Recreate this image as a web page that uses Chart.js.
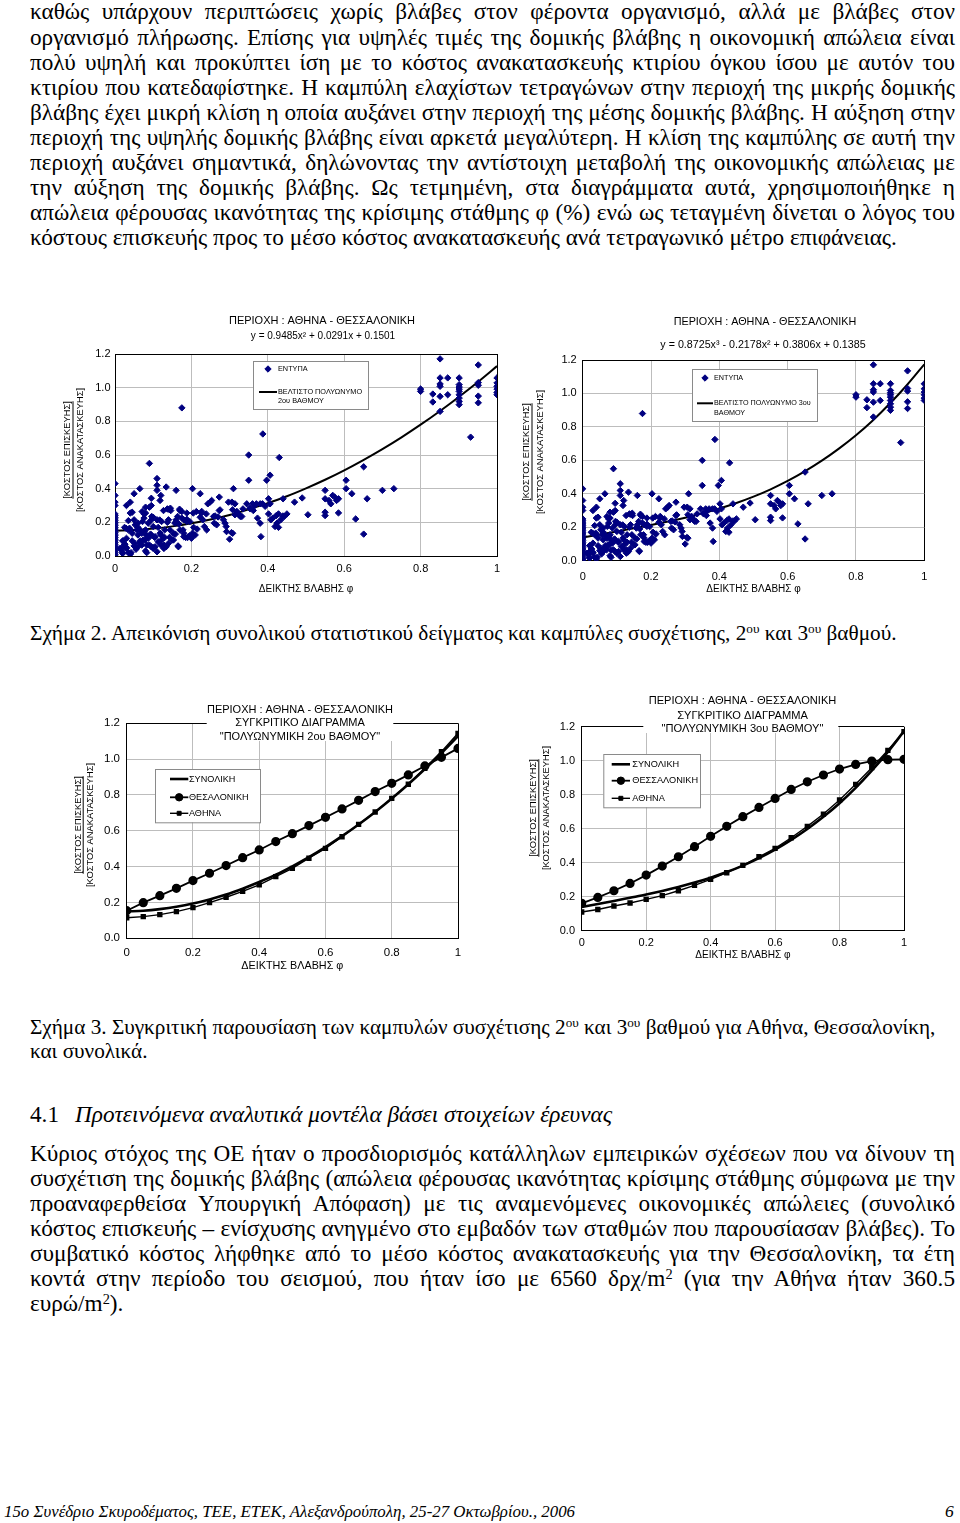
<!DOCTYPE html>
<html><head><meta charset="utf-8">
<script src="https://cdn.jsdelivr.net/npm/chart.js@4.4.1/dist/chart.umd.min.js"></script>
<style>
html,body{margin:0;padding:0;background:#fff;}
body{width:960px;height:1523px;position:relative;overflow:hidden;font-family:'Liberation Serif','Times New Roman',serif;color:#000;}
.blk{position:absolute;left:30px;width:925px;font-size:19.4px;line-height:25.1px;}
.blk > div{white-space:nowrap;}
.blk.done > div{white-space:normal;}
.j{text-align:justify;text-align-last:justify;}
sup{font-size:0.62em;line-height:0;vertical-align:0.5em;}
canvas{position:absolute;}
</style></head><body>

<div class="blk" id="p1" style="top:-0.6px">
<div class="jj"><span class="m">καθώς υπάρχουν περιπτώσεις χωρίς βλάβες στον φέροντα οργανισμό, αλλά με βλάβες στον</span></div>
<div class="jj"><span class="m">οργανισμό πλήρωσης. Επίσης για υψηλές τιμές της δομικής βλάβης η οικονομική απώλεια είναι</span></div>
<div class="jj"><span class="m">πολύ υψηλή και προκύπτει ίση με το κόστος ανακατασκευής κτιρίου όγκου ίσου με αυτόν του</span></div>
<div class="jj"><span class="m">κτιρίου που κατεδαφίστηκε. Η καμπύλη ελαχίστων τετραγώνων στην περιοχή της μικρής δομικής</span></div>
<div class="jj"><span class="m">βλάβης έχει μικρή κλίση η οποία αυξάνει στην περιοχή της μέσης δομικής βλάβης. Η αύξηση στην</span></div>
<div class="jj"><span class="m">περιοχή της υψηλής δομικής βλάβης είναι αρκετά μεγαλύτερη. Η κλίση της καμπύλης σε αυτή την</span></div>
<div class="jj"><span class="m">περιοχή αυξάνει σημαντικά, δηλώνοντας την αντίστοιχη μεταβολή της οικονομικής απώλειας με</span></div>
<div class="jj"><span class="m">την αύξηση της δομικής βλάβης. Ως τετμημένη, στα διαγράμματα αυτά, χρησιμοποιήθηκε η</span></div>
<div class="jj"><span class="m">απώλεια φέρουσας ικανότητας της κρίσιμης στάθμης φ (%) ενώ ως τεταγμένη δίνεται ο λόγος του</span></div>
<div><span class="m">κόστους επισκευής προς το μέσο κόστος ανακατασκευής ανά τετραγωνικό μέτρο επιφάνειας.</span></div>
</div>

<div class="blk" id="cap2" style="top:620.5px"><div><span class="m">Σχήμα 2. Απεικόνιση συνολικού στατιστικού δείγματος και καμπύλες συσχέτισης, 2<sup>ου</sup> και 3<sup>ου</sup> βαθμού.</span></div></div>

<div class="blk" id="cap3" style="top:1015px;line-height:24px;">
<div><span class="m">Σχήμα 3. Συγκριτική παρουσίαση των καμπυλών συσχέτισης 2<sup>ου</sup> και 3<sup>ου</sup> βαθμού για Αθήνα, Θεσσαλονίκη,</span></div>
<div><span class="m">και συνολικά.</span></div>
</div>

<div class="blk" id="head" style="top:1100px;line-height:28px;width:930px;">
<div><span class="m">4.1</span></div>
<div style="position:absolute;left:45px;top:0;font-style:italic;"><span class="m" id="headIt">Προτεινόμενα αναλυτικά μοντέλα βάσει στοιχείων έρευνας</span></div>
</div>

<div class="blk" id="p2" style="top:1140.5px;line-height:25px;">
<div class="jj"><span class="m">Κύριος στόχος της ΟΕ ήταν ο προσδιορισμός κατάλληλων εμπειρικών σχέσεων που να δίνουν τη</span></div>
<div class="jj"><span class="m">συσχέτιση της δομικής βλάβης (απώλεια φέρουσας ικανότητας κρίσιμης στάθμης σύμφωνα με την</span></div>
<div class="jj"><span class="m">προαναφερθείσα Υπουργική Απόφαση) με τις αναμενόμενες οικονομικές απώλειες (συνολικό</span></div>
<div class="jj"><span class="m">κόστος επισκευής – ενίσχυσης ανηγμένο στο εμβαδόν των σταθμών που παρουσίασαν βλάβες). Το</span></div>
<div class="jj"><span class="m">συμβατικό κόστος λήφθηκε από το μέσο κόστος ανακατασκευής για την Θεσσαλονίκη, τα έτη</span></div>
<div class="jj"><span class="m">κοντά στην περίοδο του σεισμού, που ήταν ίσο με 6560 δρχ/m<sup>2</sup> (για την Αθήνα ήταν 360.5</span></div>
<div><span class="m">ευρώ/m<sup>2</sup>).</span></div>
</div>

<div id="foot" style="position:absolute;left:4px;top:1500px;font-size:17.5px;line-height:22px;font-style:italic;transform-origin:left top;white-space:nowrap;"><span id="footSpan">15o Συνέδριο Σκυροδέματος, ΤΕΕ, ΕΤΕΚ, Αλεξανδρούπολη, 25-27 Οκτωβρίου., 2006</span></div>
<div style="position:absolute;left:945px;top:1500px;font-size:17.5px;line-height:22px;font-style:italic;">6</div>

<canvas id="c1" width="460" height="300" style="left:50px;top:300px"></canvas>
<canvas id="c2" width="450" height="300" style="left:505px;top:300px"></canvas>
<canvas id="c3" width="430" height="300" style="left:50px;top:690px"></canvas>
<canvas id="c4" width="430" height="300" style="left:505px;top:680px"></canvas>

<script>
// ---------------- DATA ----------------
const xTickLabels = ['0','0.2','0.4','0.6','0.8','1'];
const yTickLabels = ['0.0','0.2','0.4','0.6','0.8','1.0','1.2'];
const curveX = [0,0.05,0.1,0.15,0.2,0.25,0.3,0.35,0.4,0.45,0.5,0.55,0.6,0.65,0.7,0.75,0.8,0.85,0.9,0.95,1];
// overall fitted curves (ΣΥΝΟΛΙΚΗ)
const total2 = [0.150,0.154,0.163,0.176,0.194,0.217,0.244,0.277,0.314,0.355,0.402,0.453,0.509,0.570,0.635,0.705,0.780,0.860,0.945,1.034,1.128];
const total3 = [0.139,0.157,0.175,0.194,0.213,0.234,0.257,0.283,0.312,0.345,0.383,0.427,0.477,0.534,0.598,0.670,0.750,0.840,0.941,1.052,1.174];
// Thessaloniki / Athens curves
const thes2 = [0.154,0.199,0.238,0.279,0.322,0.363,0.406,0.450,0.493,0.540,0.584,0.629,0.675,0.722,0.770,0.819,0.865,0.912,0.962,1.010,1.060];
const ath2  = [0.115,0.121,0.132,0.149,0.171,0.199,0.229,0.262,0.298,0.344,0.390,0.447,0.502,0.567,0.636,0.705,0.781,0.860,0.949,1.042,1.144];
const thes3 = [0.161,0.196,0.235,0.278,0.327,0.380,0.435,0.494,0.555,0.614,0.671,0.725,0.778,0.831,0.876,0.916,0.951,0.978,0.998,1.006,1.008];
const ath3  = [0.110,0.125,0.145,0.163,0.184,0.206,0.235,0.267,0.302,0.341,0.384,0.435,0.484,0.547,0.614,0.686,0.769,0.861,0.959,1.061,1.171];
// survey records (ΕΝΤΥΠΑ): [damage index φ, repair/reconstruction cost ratio]
const surveyPoints = [
[0,0.43],[0,0.36],[0,0.32],[0,0.30],[0,0.25],[0,0.24],[0,0.23],[0,0.22],[0,0.21],[0,0.20],[0,0.19],[0,0.18],[0,0.17],[0,0.16],[0,0.15],[0,0.14],[0,0.13],[0,0.12],[0,0.11],[0,0.10],[0,0.09],[0,0.08],[0,0.07],[0,0.06],[0,0.05],[0,0.04],[0,0.03],[0,0.02],[0,0.01],[0,0.0],
[0.175,0.88],[0.09,0.55],[0.11,0.46],[0.11,0.42],[0.11,0.39],[0.065,0.40],[0.05,0.37],[0.04,0.32],[0.03,0.30],[0.045,0.26],[0.04,0.255],[0.035,0.21],[0.053,0.185],[0.057,0.155],[0.04,0.155],[0.03,0.105],[0.026,0.07],[0.042,0.02],[0.017,0.035],[0.02,0.015],[0.06,0.055],[0.074,0.095],[0.08,0.155],[0.083,0.02],[0.1,0.045],[0.105,0.055],[0.105,0.115],[0.1,0.175],[0.096,0.235],[0.09,0.29],[0.08,0.29],[0.08,0.255],[0.076,0.225],[0.087,0.195],[0.118,0.33],[0.12,0.36],[0.127,0.27],[0.134,0.41],[0.137,0.28],[0.14,0.215],[0.13,0.155],[0.122,0.095],[0.128,0.065],[0.118,0.135],[0.146,0.27],[0.144,0.155],[0.153,0.135],[0.153,0.095],[0.166,0.055],[0.16,0.215],[0.16,0.39],[0.164,0.235],[0.17,0.27],[0.175,0.225],[0.18,0.215],[0.188,0.255],[0.18,0.115],[0.18,0.135],[0.19,0.11],[0.188,0.205],[0.203,0.40],[0.205,0.255],[0.203,0.135],[0.21,0.125],[0.2,0.105],[0.223,0.37],[0.227,0.265],[0.223,0.23],[0.23,0.215],[0.234,0.175],[0.24,0.155],[0.243,0.31],[0.249,0.32],[0.253,0.33],[0.258,0.235],[0.26,0.195],[0.266,0.185],[0.273,0.35],[0.273,0.27],[0.284,0.215],[0.288,0.195],[0.297,0.32],[0.30,0.10],[0.308,0.135],[0.308,0.275],[0.31,0.40],[0.306,0.32],[0.314,0.31],[0.314,0.245],[0.319,0.265],[0.328,0.235],[0.335,0.28],[0.332,0.235],[0.35,0.60],[0.35,0.45],[0.345,0.31],[0.354,0.28],[0.36,0.31],[0.362,0.27],[0.37,0.31],[0.373,0.225],[0.38,0.195],[0.382,0.115],[0.387,0.725],[0.38,0.31],[0.393,0.295],[0.397,0.45],[0.406,0.48],[0.402,0.34],[0.406,0.31],[0.402,0.25],[0.408,0.215],[0.413,0.225],[0.419,0.175],[0.424,0.195],[0.43,0.585],[0.428,0.25],[0.434,0.215],[0.44,0.34],[0.443,0.235],[0.45,0.25],[0.47,0.32],[0.49,0.345],[0.505,0.245],
[0.013,0.045],[0.022,0.09],[0.03,0.045],[0.035,0.155],[0.045,0.135],[0.052,0.075],[0.06,0.125],[0.066,0.09],[0.07,0.135],[0.083,0.065],[0.087,0.105],[0.093,0.13],[0.11,0.025],[0.113,0.085],[0.134,0.055],[0.14,0.075],[0.157,0.195],[0.05,0.215],[0.06,0.195],[0.072,0.205],[0.11,0.215],[0.113,0.17],[0.122,0.205],[0.029,0.165],
[0.095,0.343],[0.095,0.30],[0.139,0.278],[0.145,0.284],[0.169,0.278],[0.175,0.264],[0.071,0.264],[0.076,0.25],[0.213,0.264],[0.226,0.254],[0.239,0.25],[0.117,0.214],[0.095,0.214],[0.1,0.23],[0.137,0.2],[0.16,0.204],[0.167,0.19],[0.188,0.218],[0.196,0.204],[0.17,0.155],[0.178,0.155],[0.025,0.17],[0.038,0.165],[0.06,0.17],[0.065,0.155],[0.076,0.145],[0.082,0.125],[0.078,0.095],[0.095,0.125],[0.104,0.11],[0.12,0.125],[0.13,0.11],[0.143,0.111],[0.149,0.095],[0.158,0.13],[0.185,0.11],[0.195,0.12],[0.2,0.115],[0.206,0.17],[0.215,0.16],[0.02,0.09],[0.025,0.07],[0.018,0.05],[0.03,0.05],[0.045,0.09],[0.05,0.06],[0.055,0.04],[0.065,0.08],[0.07,0.065],[0.09,0.065],[0.1,0.05],[0.095,0.055],[0.12,0.065],[0.128,0.045],[0.165,0.06],[0.02,0.02],[0.035,0.02],[0.04,0.01],[0.08,0.03],
[0.262,0.238],[0.27,0.232],[0.275,0.274],[0.291,0.175],[0.292,0.145],[0.305,0.139],[0.32,0.258],[0.325,0.243],[0.353,0.284],[0.366,0.30],[0.386,0.31],[0.422,0.24],[0.428,0.17],[0.44,0.238],
[0.55,0.39],[0.55,0.34],[0.55,0.26],[0.55,0.24],[0.56,0.33],[0.565,0.31],[0.57,0.36],[0.575,0.35],[0.58,0.33],[0.585,0.34],[0.585,0.256],[0.605,0.45],[0.605,0.40],[0.62,0.37],[0.63,0.22],[0.651,0.53],[0.651,0.13],[0.66,0.34],[0.70,0.39],[0.73,0.40],
[0.80,0.992],[0.80,0.978],[0.832,0.962],[0.832,0.915],[0.851,1.171],[0.851,1.058],[0.851,1.022],[0.851,1.008],[0.851,0.948],[0.851,0.859],[0.871,1.058],[0.871,0.958],
[0.901,1.058],[0.901,1.018],[0.901,1.004],[0.901,0.992],[0.901,0.978],[0.901,0.958],[0.901,0.938],[0.901,0.918],[0.901,0.899],[0.931,0.706],
[0.951,1.135],[0.951,1.03],[0.951,1.014],[0.951,0.95],[0.951,0.91],[1,1.058],[1,1.028],[1,1.008],[1,0.992],[1,0.972],[1,0.958]
];

// ---------------- TEXT FITTING (match reference line widths) ----------------
function spanW(s) { return s.getBoundingClientRect().width; }
function setBlockSize(blk, fs) {
  blk.style.fontSize = fs + 'px';
  blk.querySelectorAll(':scope > div').forEach(d => {
    const s = d.querySelector('span.m');
    if (s && d.classList.contains('jj')) {
      const w = spanW(s);
      if (w > 924) d.style.fontSize = (fs * 923 / w) + 'px';
    }
  });
  blk.querySelectorAll('.jj').forEach(d => d.classList.add('j'));
  blk.classList.add('done');
}
function fitBlock(id, lineIdx, target) {
  const blk = document.getElementById(id);
  const base = parseFloat(getComputedStyle(blk).fontSize);
  const s = blk.querySelectorAll('span.m')[lineIdx];
  const fs = base * target / spanW(s);
  setBlockSize(blk, fs);
  return fs;
}
const bodySize = fitBlock('p1', 9, 867);
setBlockSize(document.getElementById('p2'), bodySize);
fitBlock('cap2', 0, 867);
fitBlock('cap3', 0, 905);
(function () {
  const blk = document.getElementById('head');
  const base = parseFloat(getComputedStyle(blk).fontSize);
  const fs = base * 537 / spanW(document.getElementById('headIt'));
  blk.style.fontSize = fs + 'px';
  blk.classList.add('done');
  const f = document.getElementById('foot');
  f.style.transform = 'scaleX(' + (571 / spanW(document.getElementById('footSpan'))) + ')';
})();

// ---------------- CHART HELPERS ----------------
const SANS = "'Liberation Sans', Arial, sans-serif";
const NAVY = '#000080';
const curve = ys => curveX.map((x, i) => ({x, y: ys[i]}));
const scatterData = surveyPoints.map(p => ({x: p[0], y: p[1]}));

function makeScales(c) {
  const gridCol = (labels) => (ctx) => ctx.index === labels.length - 1 ? '#000' : '#bdbdbd';
  return {
    x: {
      type: 'linear', min: 0, max: 1,
      afterFit: s => { s.height = c.xH; },
      ticks: {stepSize: 0.2, autoSkip: false, maxRotation: 0, minRotation: 0, padding: c.xPad, color: '#000',
              font: {family: SANS, size: c.tick}, callback: (v, i) => xTickLabels[i]},
      grid: {drawTicks: false, color: gridCol(xTickLabels), lineWidth: 1},
      border: {color: '#000', width: 1},
      title: {display: true, text: 'ΔΕΙΚΤΗΣ ΒΛΑΒΗΣ φ', color: '#000', font: {family: SANS, size: c.xt}, padding: 0}
    },
    y: {
      type: 'linear', min: 0, max: 1.2,
      afterFit: s => { s.width = c.yW; },
      ticks: {stepSize: 0.2, autoSkip: false, padding: c.yPad, color: '#000',
              font: {family: SANS, size: c.tick}, callback: (v, i) => yTickLabels[i]},
      grid: {drawTicks: false, color: gridCol(yTickLabels), lineWidth: 1},
      border: {color: '#000', width: 1}
    }
  };
}

function drawMarker(ctx, style, r, x, y, color) {
  ctx.fillStyle = color; ctx.strokeStyle = color; ctx.lineWidth = 1;
  ctx.beginPath();
  if (style === 'rectRot') { ctx.moveTo(x, y - r); ctx.lineTo(x + r, y); ctx.lineTo(x, y + r); ctx.lineTo(x - r, y); ctx.closePath(); }
  else if (style === 'rect') { const h = r * Math.SQRT1_2; ctx.rect(x - h, y - h, 2 * h, 2 * h); }
  else { ctx.arc(x, y, r, 0, Math.PI * 2); }
  ctx.fill(); ctx.stroke();
}

const decor = {
  id: 'decor',
  afterDraw(chart, args, o) {
    const ctx = chart.ctx;
    ctx.save();
    if (o.mask) { ctx.fillStyle = '#fff'; ctx.fillRect(o.mask[0], o.mask[1], o.mask[2] - o.mask[0], o.mask[3] - o.mask[1]); }
    ctx.fillStyle = '#000'; ctx.textAlign = 'center'; ctx.textBaseline = 'middle';
    (o.titles || []).forEach(t => { ctx.font = t.size + 'px ' + SANS; ctx.fillText(t.text, t.x, t.y); });
    if (o.ytitle) {
      const yt = o.ytitle;
      ctx.font = yt.size + 'px ' + SANS;
      const w1 = ctx.measureText(yt.top).width;
      ctx.save(); ctx.translate(yt.x1, yt.cy); ctx.rotate(-Math.PI / 2); ctx.fillText(yt.top, 0, 0); ctx.restore();
      ctx.save(); ctx.translate(yt.x2, yt.cy); ctx.rotate(-Math.PI / 2); ctx.fillText(yt.bottom, 0, 0); ctx.restore();
      ctx.strokeStyle = '#000'; ctx.lineWidth = 1;
      ctx.beginPath(); ctx.moveTo(yt.xu + 0.5, yt.cy - w1 / 2); ctx.lineTo(yt.xu + 0.5, yt.cy + w1 / 2); ctx.stroke();
    }
    if (o.legend) {
      const L = o.legend;
      ctx.fillStyle = '#fff'; ctx.fillRect(L.box[0], L.box[1], L.box[2] - L.box[0], L.box[3] - L.box[1]);
      ctx.strokeStyle = '#8a8a8a'; ctx.lineWidth = 1;
      ctx.strokeRect(L.box[0] + 0.5, L.box[1] + 0.5, L.box[2] - L.box[0], L.box[3] - L.box[1]);
      L.items.forEach(it => {
        const ds = chart.data.datasets[it.ds];
        if (ds.showLine) {
          ctx.strokeStyle = ds.borderColor; ctx.lineWidth = ds.borderWidth;
          ctx.beginPath(); ctx.moveTo(L.sx1, it.y); ctx.lineTo(L.sx2, it.y); ctx.stroke();
        }
        if (ds.pointRadius > 0) drawMarker(ctx, ds.pointStyle, ds.pointRadius, (L.sx1 + L.sx2) / 2, it.y, ds.pointBackgroundColor || ds.backgroundColor);
        ctx.fillStyle = '#000'; ctx.textAlign = 'left'; ctx.font = L.size + 'px ' + SANS;
        it.lines.forEach((ln, k) => ctx.fillText(ln, L.tx, it.y + k * L.lh));
      });
    }
    ctx.restore();
  }
};

function scatterChart(id, fit, c, extra) {
  return new Chart(document.getElementById(id), {
    type: 'scatter',
    data: {datasets: [
      {label: 'ΕΝΤΥΠΑ', data: scatterData, pointStyle: 'rectRot', pointRadius: 3.2, pointHoverRadius: 3.2,
       backgroundColor: NAVY, borderColor: NAVY, pointBackgroundColor: NAVY, borderWidth: 1, showLine: false},
      {label: 'ΒΕΛΤΙΣΤΟ ΠΟΛΥΩΝΥΜΟ', data: curve(fit), showLine: true, pointRadius: 0, borderColor: '#000',
       borderWidth: 2, cubicInterpolationMode: 'monotone', fill: false}
    ]},
    options: {
      responsive: false, animation: false, devicePixelRatio: 1,
      layout: {padding: c.pad},
      scales: makeScales(c),
      plugins: {legend: {display: false}, tooltip: {enabled: false}, decor: extra}
    },
    plugins: [decor]
  });
}

function compareChart(id, tot, th, at, c, extra) {
  return new Chart(document.getElementById(id), {
    type: 'scatter',
    data: {datasets: [
      {label: 'ΣΥΝΟΛΙΚΗ', data: curve(tot), showLine: true, pointRadius: 0, borderColor: '#000', borderWidth: 2.6,
       cubicInterpolationMode: 'monotone'},
      {label: c.thesLabel, data: curve(th), showLine: true, pointStyle: 'circle', pointRadius: 3.7, pointHoverRadius: 3.7,
       borderColor: '#000', backgroundColor: '#000', pointBackgroundColor: '#000', borderWidth: 1.8},
      {label: 'ΑΘΗΝΑ', data: curve(at), showLine: true, pointStyle: 'rect', pointRadius: 2.8, pointHoverRadius: 2.8,
       borderColor: '#000', backgroundColor: '#000', pointBackgroundColor: '#000', borderWidth: 1.4}
    ]},
    options: {
      responsive: false, animation: false, devicePixelRatio: 1,
      layout: {padding: c.pad},
      scales: makeScales(c),
      plugins: {legend: {display: false}, tooltip: {enabled: false}, decor: extra}
    },
    plugins: [decor]
  });
}

const YT = {top: '[ΚΟΣΤΟΣ ΕΠΙΣΚΕΥΗΣ]', bottom: '[ΚΟΣΤΟΣ ΑΝΑΚΑΤΑΣΚΕΥΗΣ]', size: 9.3};
const REGION = 'ΠΕΡΙΟΧΗ : ΑΘΗΝΑ - ΘΕΣΣΑΛΟΝΙΚΗ';

scatterChart('c1', total2,
  {pad: {left: 0, top: 54, right: 13, bottom: 4.4}, xH: 39.6, yW: 65, xPad: 6.7, yPad: 4.5, tick: 11, xt: 10},
  {titles: [{text: REGION, x: 272, y: 20.7, size: 11},
            {text: 'y = 0.9485x² + 0.0291x + 0.1501', x: 273, y: 36.7, size: 10}],
   ytitle: Object.assign({x1: 17.3, xu: 22.5, x2: 30.7, cy: 150}, YT),
   legend: {box: [203, 61, 318, 109], sx1: 209, sx2: 227, tx: 228, size: 7.3, lh: 8.5,
            items: [{ds: 0, y: 69, lines: ['ΕΝΤΥΠΑ']}, {ds: 1, y: 92, lines: ['ΒΕΛΤΙΣΤΟ ΠΟΛΥΩΝΥΜΟ', '2ου ΒΑΘΜΟΥ']}]}});

scatterChart('c2', total3,
  {pad: {left: 0, top: 60, right: 30.7, bottom: 4.4}, xH: 34.9, yW: 77.7, xPad: 9.4, yPad: 6, tick: 11, xt: 10},
  {titles: [{text: REGION, x: 260, y: 21.7, size: 10.8},
            {text: 'y = 0.8725x³ - 0.2178x² + 0.3806x + 0.1385', x: 258, y: 45, size: 10.7}],
   ytitle: Object.assign({x1: 21.7, xu: 26.5, x2: 35, cy: 152}, YT),
   legend: {box: [187, 69, 312, 121], sx1: 192, sx2: 208, tx: 209, size: 7.2, lh: 9.3,
            items: [{ds: 0, y: 78, lines: ['ΕΝΤΥΠΑ']}, {ds: 1, y: 103.3, lines: ['ΒΕΛΤΙΣΤΟ ΠΟΛΥΩΝΥΜΟ 3ου', 'ΒΑΘΜΟΥ']}]}});

compareChart('c3', total2, thes2, ath2,
  {pad: {left: 0, top: 33.3, right: 22, bottom: 17}, xH: 34.7, yW: 76.7, xPad: 8.1, yPad: 6.7, tick: 11.5, xt: 10.8,
   thesLabel: 'ΘΕΣΑΛΟΝΙΚΗ'},
  {mask: [156.7, 8, 343.3, 51],
   titles: [{text: REGION, x: 250, y: 20, size: 11},
            {text: 'ΣΥΓΚΡΙΤΙΚΟ ΔΙΑΓΡΑΜΜΑ', x: 250, y: 33.3, size: 11},
            {text: '"ΠΟΛΥΩΝΥΜΙΚΗ 2ου ΒΑΘΜΟΥ"', x: 250, y: 46.7, size: 11}],
   ytitle: Object.assign({x1: 28.3, xu: 32.7, x2: 40.7, cy: 135}, YT),
   legend: {box: [105, 79, 210, 132.3], sx1: 120, sx2: 138.3, tx: 139, size: 9.1, lh: 10,
            items: [{ds: 0, y: 89, lines: ['ΣΥΝΟΛΙΚΗ']}, {ds: 1, y: 107.3, lines: ['ΘΕΣΑΛΟΝΙΚΗ']}, {ds: 2, y: 123.3, lines: ['ΑΘΗΝΑ']}]}});

compareChart('c4', total3, thes3, ath3,
  {pad: {left: 0, top: 46.7, right: 31, bottom: 18.7}, xH: 30.6, yW: 76.7, xPad: 5.7, yPad: 6.7, tick: 11, xt: 10.1,
   thesLabel: 'ΘΕΣΣΑΛΟΝΙΚΗ'},
  {mask: [138.3, 8, 333.3, 53],
   titles: [{text: REGION, x: 237.5, y: 20.7, size: 11.1},
            {text: 'ΣΥΓΚΡΙΤΙΚΟ ΔΙΑΓΡΑΜΜΑ', x: 237.5, y: 35.7, size: 11.1},
            {text: '"ΠΟΛΥΩΝΥΜΙΚΗ 3ου ΒΑΘΜΟΥ"', x: 237.5, y: 49.3, size: 11.1}],
   ytitle: Object.assign({x1: 28.3, xu: 33.3, x2: 41.7, cy: 128}, YT),
   legend: {box: [98.3, 74, 195, 127.3], sx1: 106.7, sx2: 125, tx: 127.3, size: 9.2, lh: 10,
            items: [{ds: 0, y: 84.3, lines: ['ΣΥΝΟΛΙΚΗ']}, {ds: 1, y: 100.7, lines: ['ΘΕΣΣΑΛΟΝΙΚΗ']}, {ds: 2, y: 118.3, lines: ['ΑΘΗΝΑ']}]}});
</script>
</body></html>
